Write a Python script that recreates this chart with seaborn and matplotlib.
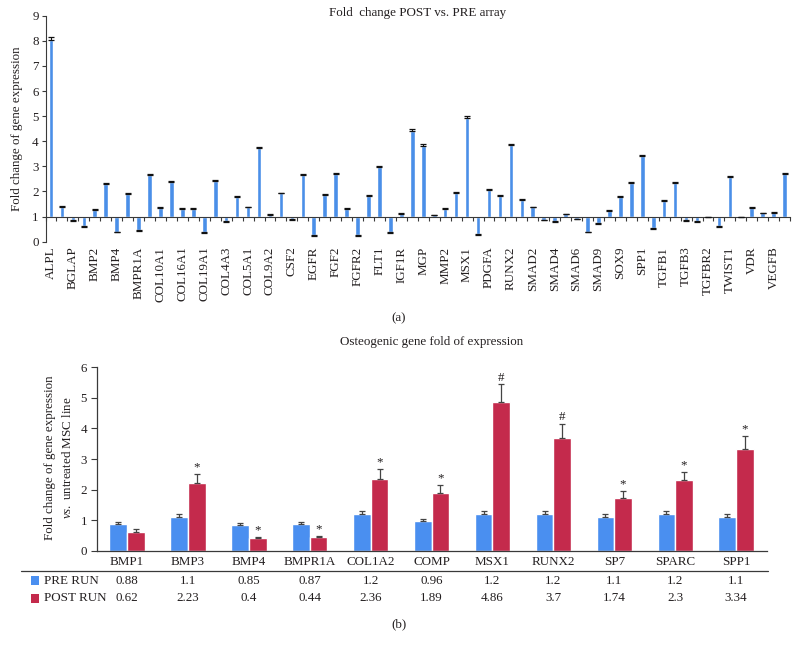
import numpy as np
import pandas as pd
import matplotlib
matplotlib.use("Agg")
import matplotlib.pyplot as plt
from matplotlib.patches import Rectangle
from matplotlib.lines import Line2D
import seaborn as sns

# ---------------- data: panel (a) ----------------
genes_a = ["ALPL", "AMBN", "BGLAP", "BMP1", "BMP2", "BMP3", "BMP4", "BMP6",
           "BMPR1A", "BMPR1B", "COL10A1", "COL14A1", "COL16A1", "COL18A1",
           "COL19A1", "COL2A1", "COL4A3", "COL4A5", "COL5A1", "COL7A1",
           "COL9A2", "COMP", "CSF2", "CTSK", "EGFR", "FGF1", "FGF2", "FGFR1",
           "FGFR2", "FGFR3", "FLT1", "IGF1", "IGF1R", "IGF2", "MGP", "MMP10",
           "MMP2", "MMP9", "MSX1", "NFKB1", "PDGFA", "PHEX", "RUNX2", "SMAD1",
           "SMAD2", "SMAD3", "SMAD4", "SMAD5", "SMAD6", "SMAD7", "SMAD9",
           "SOST", "SOX9", "SP7", "SPP1", "STATH", "TGFB1", "TGFB2", "TGFB3",
           "TGFBR1", "TGFBR2", "TNF", "TWIST1", "VCAM1", "VDR", "VEGFA",
           "VEGFB", "VEGFC"]
fold_a = [8.02, 1.40, 0.87, 0.63, 1.28, 2.28, 0.40, 1.90,
          0.45, 2.64, 1.34, 2.36, 1.30, 1.32,
          0.38, 2.41, 0.82, 1.80, 1.37, 3.73,
          1.08, 1.92, 0.90, 2.64, 0.26, 1.86, 2.68, 1.32,
          0.27, 1.83, 2.96, 0.39, 1.11, 4.42, 3.83, 1.05,
          1.30, 1.95, 4.92, 0.31, 2.07, 1.82, 3.84, 1.68,
          1.37, 0.88, 0.82, 1.10, 0.92, 0.40, 0.73,
          1.23, 1.78, 2.35, 3.40, 0.55, 1.64, 2.33, 0.87,
          0.81, 1.00, 0.63, 2.59, 1.00, 1.34, 1.14,
          1.16, 2.70]
err_a = [0.15, 0.03, 0.03, 0.03, 0.03, 0.04, 0.03, 0.03,
         0.03, 0.04, 0.03, 0.04, 0.03, 0.03,
         0.03, 0.04, 0.03, 0.03, 0.03, 0.06,
         0.03, 0.03, 0.03, 0.04, 0.03, 0.03, 0.04, 0.03,
         0.03, 0.03, 0.05, 0.03, 0.03, 0.07, 0.06, 0.02,
         0.03, 0.03, 0.07, 0.03, 0.04, 0.03, 0.05, 0.03,
         0.03, 0.03, 0.03, 0.02, 0.02, 0.03, 0.03,
         0.03, 0.04, 0.04, 0.05, 0.03, 0.03, 0.04, 0.03,
         0.03, 0.00, 0.03, 0.04, 0.00, 0.03, 0.02,
         0.02, 0.05]
title_a = "Fold  change POST vs. PRE array"
ylabel_a = "Fold change of gene expression"
yticks_a = [0, 1, 2, 3, 4, 5, 6, 7, 8, 9]

# ---------------- data: panel (b) ----------------
genes_b = ["BMP1", "BMP3", "BMP4", "BMPR1A", "COL1A2", "COMP", "MSX1",
           "RUNX2", "SP7", "SPARC", "SPP1"]
pre_run = [0.88, 1.1, 0.85, 0.87, 1.2, 0.96, 1.2, 1.2, 1.1, 1.2, 1.1]
post_run = [0.62, 2.23, 0.4, 0.44, 2.36, 1.89, 4.86, 3.7, 1.74, 2.3, 3.34]
pre_err = [0.07, 0.10, 0.07, 0.08, 0.10, 0.09, 0.10, 0.10, 0.09, 0.10, 0.09]
post_err = [0.08, 0.28, 0.06, 0.05, 0.30, 0.25, 0.59, 0.46, 0.20, 0.27, 0.41]
sig_b = ["", "*", "*", "*", "*", "*", "#", "#", "*", "*", "*"]
pre_txt = ["0.88", "1.1", "0.85", "0.87", "1.2", "0.96", "1.2", "1.2", "1.1", "1.2", "1.1"]
post_txt = ["0.62", "2.23", "0.4", "0.44", "2.36", "1.89", "4.86", "3.7", "1.74", "2.3", "3.34"]
series_b = ["PRE RUN", "POST RUN"]
title_b = "Osteogenic gene fold of expression"
yticks_b = [0, 1, 2, 3, 4, 5, 6]

# ---------------- style ----------------
BLUE_A = "#4a8fe8"
BLUE_B = "#4a8ff0"
RED_B = "#c42a4c"
TXT = "#231f20"
AX = "#3a3a3a"

sns.set_theme(style="white")
plt.rcParams["font.family"] = ["Liberation Serif", "DejaVu Serif"]
plt.rcParams["mathtext.fontset"] = "custom"
plt.rcParams["mathtext.rm"] = "Liberation Serif"
plt.rcParams["mathtext.it"] = "Liberation Serif:italic"
plt.rcParams["text.color"] = TXT
FS = 9.4

W, H = 798, 651
fig = plt.figure(figsize=(W / 100, H / 100), dpi=100)


def fx(x):
    return x / W


def fy(y):
    return 1 - y / H


# ---------------- panel (a) ----------------
a_left, a_right, a_top, a_bot = 45.5, 790.1, 15.7, 241.7
ax = fig.add_axes([fx(a_left), fy(a_bot), (a_right - a_left) / W, (a_bot - a_top) / H])
df_a = pd.DataFrame({"gene": genes_a, "fold": fold_a})
df_a["delta"] = df_a["fold"] - 1.0
sns.barplot(data=df_a, x="gene", y="delta", order=genes_a, color=BLUE_A,
            width=0.42, bottom=1.0, errorbar=None, saturation=1, ax=ax)

vals = np.array(fold_a)
errs = np.array(err_a)
lower = np.where(vals < 1, errs, 0.0)
upper = np.where(vals >= 1, errs, 0.0)
ax.errorbar(np.arange(len(genes_a)), vals, yerr=[lower, upper], fmt="none",
            ecolor="#111111", elinewidth=0.8, capsize=2.2, capthick=0.9, zorder=3)

ax.set_xlim(-0.5, len(genes_a) - 0.5)
ax.set_ylim(0, 9)
ax.set_yticks(yticks_a)
ax.set_yticklabels([str(t) for t in yticks_a], fontsize=FS, color=TXT)
ax.set_xticks(np.arange(len(genes_a) + 1) - 0.5)
ax.set_xticklabels([])
ax.tick_params(axis="x", direction="out", length=3.2, width=0.8, color=AX, bottom=True)
ax.tick_params(axis="y", direction="out", length=3, width=0.8, color=AX, pad=2, left=True)
ax.set_xlabel("")
ax.set_ylabel("")
for s in ["top", "right"]:
    ax.spines[s].set_visible(False)
ax.spines["bottom"].set_position(("data", 1))
ax.spines["bottom"].set_color(AX)
ax.spines["bottom"].set_linewidth(0.8)
ax.spines["left"].set_color(AX)
ax.spines["left"].set_linewidth(0.8)

trans = ax.get_xaxis_transform()
for i in range(0, len(genes_a), 2):
    ax.text(i, -0.022, genes_a[i], rotation=90, ha="center", va="top",
            fontsize=FS, transform=trans, color=TXT)

fig.text(fx((a_left + a_right) / 2), fy(13), title_a, ha="center", va="center", fontsize=FS)
fig.text(fx(16.7), fy(129), ylabel_a, rotation=90, ha="center", va="center", fontsize=FS)
fig.text(fx(399), fy(318), "(a)", ha="center", va="center", fontsize=FS)

# ---------------- panel (b) ----------------
b_left, b_right, b_top, b_bot = 96.7, 766.5, 367.3, 550.7
ax2 = fig.add_axes([fx(b_left), fy(b_bot), (b_right - b_left) / W, (b_bot - b_top) / H])
df_b = pd.DataFrame({
    "gene": genes_b * 2,
    "run": [series_b[0]] * len(genes_b) + [series_b[1]] * len(genes_b),
    "value": pre_run + post_run,
})
sns.barplot(data=df_b, x="gene", y="value", hue="run", order=genes_b,
            hue_order=series_b, palette=[BLUE_B, RED_B], width=0.58,
            errorbar=None, saturation=1, legend=False, ax=ax2)

for cont, errlist in zip(ax2.containers, [pre_err, post_err]):
    xs = [p.get_x() + p.get_width() / 2 for p in cont.patches]
    hs = [p.get_height() for p in cont.patches]
    ax2.errorbar(xs, hs, yerr=[np.zeros(len(errlist)), errlist], fmt="none",
                 ecolor="#444444", elinewidth=0.9, capsize=2.5, capthick=0.9, zorder=3)

post_patches = ax2.containers[1].patches
for p, e, s in zip(post_patches, post_err, sig_b):
    if s:
        ax2.text(p.get_x() + p.get_width() / 2, p.get_height() + e + 0.02, s,
                 ha="center", va="bottom", fontsize=FS, color=TXT)

ax2.set_xlim(-0.5, len(genes_b) - 0.5)
ax2.set_ylim(0, 6)
ax2.set_yticks(yticks_b)
ax2.set_yticklabels([str(t) for t in yticks_b], fontsize=FS, color=TXT)
ax2.set_xticks(range(len(genes_b)))
ax2.set_xticklabels(genes_b, fontsize=FS, color=TXT)
ax2.tick_params(axis="x", length=0, pad=4)
ax2.tick_params(axis="y", direction="out", length=4, width=0.8, color=AX, pad=3, left=True)
ax2.set_xlabel("")
ax2.set_ylabel("")
for s in ["top", "right"]:
    ax2.spines[s].set_visible(False)
for s in ["bottom", "left"]:
    ax2.spines[s].set_color(AX)
    ax2.spines[s].set_linewidth(0.9)

fig.text(fx((b_left + b_right) / 2), fy(342), title_b, ha="center", va="center", fontsize=FS)
fig.text(fx(50), fy(458), "Fold change of gene expression", rotation=90,
         ha="center", va="center", fontsize=FS)
fig.text(fx(67.5), fy(458), r"$\mathit{vs.}$ untreated MSC line", rotation=90,
         ha="center", va="center", fontsize=FS)

# table below panel (b)
fig.add_artist(Line2D([fx(20.7), fx(767.7)], [fy(570.7), fy(570.7)],
                      transform=fig.transFigure, color=AX, lw=0.9))
row_y = [580.7, 598.3]
row_txt = [pre_txt, post_txt]
row_col = [BLUE_B, RED_B]
trans2 = ax2.get_xaxis_transform()
for ry, txts, col, name in zip(row_y, row_txt, row_col, series_b):
    sq = 8.6
    fig.add_artist(Rectangle((fx(30.7), fy(ry + sq / 2)), sq / W, sq / H,
                             transform=fig.transFigure, color=col, lw=0))
    fig.text(fx(44.5), fy(ry), name, ha="left", va="center", fontsize=FS)
    ya = (b_bot - ry) / (b_bot - b_top)
    for i, t in enumerate(txts):
        ax2.text(i, ya, t, ha="center", va="center", fontsize=FS,
                 transform=trans2, color=TXT, clip_on=False)

fig.text(fx(399), fy(624), "(b)", ha="center", va="center", fontsize=FS)

fig.savefig("out.png", dpi=100)
